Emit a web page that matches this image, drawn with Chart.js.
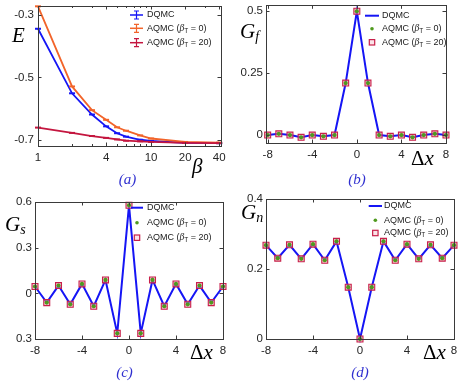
<!DOCTYPE html>
<html>
<head>
<meta charset="utf-8">
<script src="https://cdn.jsdelivr.net/npm/chart.js@4.4.0/dist/chart.umd.min.js"></script>
<style>
  body { margin: 0; background: #fff; width: 463px; height: 384px; position: relative; overflow: hidden; }
  .panel { position: absolute; }
</style>
</head>
<body>
<div class="panel" style="left:0;top:0;width:231px;height:192px"><canvas id="pa"></canvas></div>
<div class="panel" style="left:231px;top:0;width:232px;height:192px"><canvas id="pb"></canvas></div>
<div class="panel" style="left:0;top:192px;width:231px;height:192px"><canvas id="pc"></canvas></div>
<div class="panel" style="left:231px;top:192px;width:232px;height:192px"><canvas id="pd"></canvas></div>
<script>
// panel (a): energy vs beta
const betas = [1, 2, 3, 4, 5, 6, 8, 10, 20, 40];
const eDqmc = [-0.344, -0.551, -0.619, -0.657, -0.679, -0.690, -0.700, -0.704, -0.710, -0.711];
const eAqmc0 = [-0.272, -0.529, -0.605, -0.636, -0.660, -0.671, -0.686, -0.696, -0.707, -0.709];
const eAqmc20 = [-0.661, -0.678, -0.688, -0.694, -0.699, -0.703, -0.705, -0.707, -0.710, -0.711];
const betaTicks = [1, 4, 10, 20, 40];
const betaMinor = [1, 2, 3, 4, 5, 6, 7, 8, 9, 10, 20, 30, 40];
const eTicks = [-0.7, -0.5, -0.3];

// panels (b)-(d): correlations vs distance
const dx = [-8, -7, -6, -5, -4, -3, -2, -1, 0, 1, 2, 3, 4, 5, 6, 7, 8];
const gf = [0, 0.005, 0, -0.009, 0, -0.005, 0, 0.21, 0.5, 0.21, 0, -0.005, 0, -0.009, 0, 0.005, 0];
const gs = [0.045, -0.061, 0.051, -0.072, 0.062, -0.085, 0.088, -0.263, 0.578, -0.263, 0.088, -0.085, 0.062, -0.072, 0.051, -0.061, 0.045];
const gn = [0.268, 0.231, 0.269, 0.229, 0.271, 0.225, 0.279, 0.148, 0, 0.148, 0.279, 0.225, 0.271, 0.229, 0.269, 0.231, 0.268];
const dxTicks = [-8, -4, 0, 4, 8];
const gfTicks = [0, 0.25, 0.5];
const gsTicks = [-0.3, 0, 0.3, 0.6];
const gsTickLabels = ['0.3', '0', '0.3', '0.6'];
const gnTicks = [0, 0.2, 0.4];

const BLUE = '#1515f5', ORANGE = '#f2642a', RED = '#c4163f', GREEN = '#4f9a1e';
const SQ_EDGE = '#c8204a', SQ_FILL = 'rgba(238,150,170,0.55)';
const TICKFONT = { family: '"Liberation Sans", Arial, sans-serif', size: 11.5 };
const LF = '9px "Liberation Sans", Arial, sans-serif';

// box with inward ticks, legend and free labels
const deco = {
  id: 'deco',
  afterDatasetsDraw(chart, args, o) {
    const { ctx, chartArea: a } = chart;
    const sx = chart.scales.x, sy = chart.scales.y;
    ctx.save();
    ctx.strokeStyle = '#3a3a3a';
    ctx.lineWidth = 1;
    ctx.beginPath();
    (o.xt || []).forEach(t => {
      const v = t.v !== undefined ? t.v : t, L = t.l || 3.5;
      const p = Math.round(sx.getPixelForValue(v)) + 0.5;
      ctx.moveTo(p, a.bottom); ctx.lineTo(p, a.bottom - L);
      ctx.moveTo(p, a.top); ctx.lineTo(p, a.top + L);
    });
    (o.yt || []).forEach(v => {
      const p = Math.round(sy.getPixelForValue(v)) + 0.5;
      ctx.moveTo(a.left, p); ctx.lineTo(a.left + 3.5, p);
      ctx.moveTo(a.right, p); ctx.lineTo(a.right - 3.5, p);
    });
    ctx.stroke();
    ctx.strokeRect(Math.round(a.left) + 0.5, Math.round(a.top) + 0.5,
      Math.round(a.right - a.left), Math.round(a.bottom - a.top));

    // legend
    const lg = o.legend;
    if (lg) {
      lg.rows.forEach((r, i) => {
        const y = lg.y[i];
        const x0 = lg.x0, x1 = lg.x1, xm = (x0 + x1) / 2;
        if (r.kind === 'err' || r.kind === 'line') {
          ctx.strokeStyle = r.color; ctx.lineWidth = r.kind === 'line' ? 2 : 1.5;
          ctx.beginPath(); ctx.moveTo(x0, y); ctx.lineTo(x1, y); ctx.stroke();
          if (r.kind === 'err') {
            ctx.lineWidth = 1.2;
            ctx.beginPath();
            ctx.moveTo(xm, y - 4); ctx.lineTo(xm, y + 4);
            ctx.moveTo(xm - 2.5, y - 4); ctx.lineTo(xm + 2.5, y - 4);
            ctx.moveTo(xm - 2.5, y + 4); ctx.lineTo(xm + 2.5, y + 4);
            ctx.stroke();
          }
        } else if (r.kind === 'dot') {
          ctx.fillStyle = GREEN;
          ctx.beginPath(); ctx.arc(xm, y, 1.8, 0, Math.PI * 2); ctx.fill();
        } else if (r.kind === 'sq') {
          ctx.fillStyle = '#fbe3e8'; ctx.strokeStyle = SQ_EDGE; ctx.lineWidth = 1.2;
          ctx.fillRect(xm - 2.7, y - 2.7, 5.4, 5.4);
          ctx.strokeRect(xm - 2.7, y - 2.7, 5.4, 5.4);
        }
        ctx.fillStyle = '#1a1a1a';
        ctx.textBaseline = 'middle';
        ctx.textAlign = 'left';
        let x = lg.tx;
        r.parts.forEach(p => {
          ctx.font = p.f || LF;
          ctx.fillText(p.t, x, y + (p.dy || 0));
          x += ctx.measureText(p.t).width;
        });
      });
    }

    // axis labels and panel tag
    (o.texts || []).forEach(tx => {
      ctx.fillStyle = tx.color || '#000';
      ctx.textBaseline = tx.base || 'alphabetic';
      ctx.textAlign = tx.align || 'left';
      let x = tx.x;
      tx.parts.forEach(p => {
        ctx.font = p.f;
        ctx.fillText(p.t, x, tx.y + (p.dy || 0));
        x += ctx.measureText(p.t).width;
      });
    });
    ctx.restore();
  }
};
Chart.register(deco);

function aqmcLabel(n) {
  return [
    { t: 'AQMC (' },
    { t: 'β', f: 'italic 9.5px "Liberation Serif", serif' },
    { t: 'T', f: '6.5px "Liberation Sans", Arial, sans-serif', dy: 2.5 },
    { t: ' = ' + n + ')' }
  ];
}

function axisLabel(main, sub, x, y) {
  return {
    x, y, parts: [
      { t: main, f: 'italic 21px "Liberation Serif", serif' },
      { t: sub, f: 'italic 14px "Liberation Serif", serif', dy: 3 }
    ]
  };
}
function dxLabel(x, y) {
  return {
    x, y, parts: [
      { t: 'Δ', f: '21px "Liberation Serif", serif' },
      { t: 'x', f: 'italic 21px "Liberation Serif", serif' }
    ]
  };
}
function tagLabel(t, x, y) {
  return { x, y, align: 'center', base: 'middle', color: '#3030d0',
    parts: [{ t, f: 'italic 15px "Liberation Serif", serif' }] };
}

function setTicks(vals) {
  return s => { s.ticks = vals.map(v => ({ value: v })); };
}
function fixY(w) {
  return s => { s.width = w; s.paddingTop = 0; s.paddingBottom = 0; };
}
function fixX(h) {
  return s => { s.height = h; s.paddingLeft = 0; s.paddingRight = 0; };
}

function axes(xopt, yopt) {
  return {
    x: Object.assign({
      type: 'linear',
      grid: { display: false, drawTicks: false },
      border: { display: false },
      ticks: { font: TICKFONT, color: '#262626', padding: 5, maxRotation: 0, autoSkip: false }
    }, xopt),
    y: Object.assign({
      type: 'linear',
      grid: { display: false, drawTicks: false },
      border: { display: false },
      ticks: { font: TICKFONT, color: '#262626', padding: 4, autoSkip: false }
    }, yopt)
  };
}

function baseOpts(pad, scales, decoOpts) {
  return {
    responsive: false,
    animation: false,
    layout: { padding: pad },
    scales,
    plugins: { legend: { display: false }, tooltip: { enabled: false }, deco: decoOpts }
  };
}

function makeCanvas(id, w, h) {
  const c = document.getElementById(id);
  c.width = w; c.height = h;
  c.style.width = w + 'px'; c.style.height = h + 'px';
  return c;
}

// ---- (a)
const pts = ys => betas.map((b, i) => ({ x: b, y: ys[i] }));
function eSet(label, ys, color, order) {
  return {
    label, data: pts(ys), borderColor: color, backgroundColor: color,
    borderWidth: 1.8, pointStyle: 'line', pointRadius: 3, pointBorderWidth: 2,
    pointBorderColor: color, order, clip: false
  };
}
new Chart(makeCanvas('pa', 231, 192), {
  type: 'line',
  data: {
    datasets: [
      eSet('DQMC', eDqmc, BLUE, 3),
      eSet('AQMC (βT = 0)', eAqmc0, ORANGE, 2),
      eSet('AQMC (βT = 20)', eAqmc20, RED, 1)
    ]
  },
  options: baseOpts({ left: 0, top: 5, right: 10, bottom: 0 },
    axes(
      { type: 'logarithmic', min: 1, max: 41.5, afterBuildTicks: setTicks(betaTicks), afterFit: fixX(46),
        ticks: { font: TICKFONT, color: '#262626', padding: 5, maxRotation: 0, autoSkip: false, callback: v => String(v) } },
      { min: -0.72, max: -0.271, afterBuildTicks: setTicks(eTicks), afterFit: fixY(38),
        ticks: { font: TICKFONT, color: '#262626', padding: 4, callback: v => v.toFixed(1) } }
    ),
    {
      xt: betaMinor.map(v => ({ v, l: betaTicks.includes(v) ? 3.5 : 2 })),
      yt: eTicks,
      legend: {
        x0: 130, x1: 143, tx: 147, y: [15, 28.3, 42.7],
        rows: [
          { kind: 'err', color: BLUE, parts: [{ t: 'DQMC' }] },
          { kind: 'err', color: ORANGE, parts: aqmcLabel(0) },
          { kind: 'err', color: RED, parts: aqmcLabel(20) }
        ]
      },
      texts: [
        { x: 12, y: 42, parts: [{ t: 'E', f: 'italic 21px "Liberation Serif", serif' }] },
        { x: 192, y: 173, parts: [{ t: 'β', f: 'italic 21px "Liberation Serif", serif' }] },
        tagLabel('(a)', 127.5, 180)
      ]
    })
});

// ---- (b)-(d)
function corrSets(ys) {
  const d = dx.map((x, i) => ({ x, y: ys[i] }));
  return [
    { label: 'DQMC', data: d, borderColor: BLUE, borderWidth: 2, pointRadius: 0, order: 3, clip: false },
    { label: 'AQMC (βT = 20)', data: d, showLine: false, pointStyle: 'rect', pointRadius: 4.2,
      pointBorderWidth: 1.1, pointBorderColor: SQ_EDGE, pointBackgroundColor: SQ_FILL, order: 2, clip: false },
    { label: 'AQMC (βT = 0)', data: d, showLine: false, pointStyle: 'circle', pointRadius: 2.1,
      pointBorderWidth: 0, pointBorderColor: GREEN, pointBackgroundColor: GREEN, order: 1, clip: false }
  ];
}
function corrLegend(x0, x1, tx, ys) {
  return {
    x0, x1, tx, y: ys,
    rows: [
      { kind: 'line', color: BLUE, parts: [{ t: 'DQMC' }] },
      { kind: 'dot', parts: aqmcLabel(0) },
      { kind: 'sq', parts: aqmcLabel(20) }
    ]
  };
}

new Chart(makeCanvas('pb', 232, 192), {
  type: 'line',
  data: { datasets: corrSets(gf) },
  options: baseOpts({ left: 0, top: 5, right: 17, bottom: 0 },
    axes(
      { min: -8.15, max: 8, afterBuildTicks: setTicks(dxTicks), afterFit: fixX(49) },
      { min: -0.032, max: 0.524, afterBuildTicks: setTicks(gfTicks), afterFit: fixY(35),
        ticks: { font: TICKFONT, color: '#262626', padding: 3, callback: v => String(v) } }
    ),
    {
      xt: dxTicks, yt: gfTicks,
      legend: corrLegend(134, 148, 151, [15.7, 28.7, 42.3]),
      texts: [axisLabel('G', 'f', 9, 38), dxLabel(180, 165), tagLabel('(b)', 126, 180)]
    })
});

new Chart(makeCanvas('pc', 231, 192), {
  type: 'line',
  data: { datasets: corrSets(gs) },
  options: baseOpts({ left: 0, top: 10, right: 8, bottom: 0 },
    axes(
      { min: -8, max: 8, afterBuildTicks: setTicks(dxTicks), afterFit: fixX(45) },
      { min: -0.3, max: 0.6, afterBuildTicks: setTicks(gsTicks), afterFit: fixY(35),
        ticks: { font: TICKFONT, color: '#262626', padding: 3, callback: (v, i) => gsTickLabels[i] } }
    ),
    {
      xt: dxTicks, yt: gsTicks,
      legend: corrLegend(131, 143, 147, [15.7, 30.7, 45.7]),
      texts: [axisLabel('G', 's', 5, 39), dxLabel(190, 167), tagLabel('(c)', 124.5, 181.5)]
    })
});

new Chart(makeCanvas('pd', 232, 192), {
  type: 'line',
  data: { datasets: corrSets(gn) },
  options: baseOpts({ left: 0, top: 7, right: 9, bottom: 0 },
    axes(
      { min: -8, max: 8, afterBuildTicks: setTicks(dxTicks), afterFit: fixX(45) },
      { min: 0, max: 0.4, afterBuildTicks: setTicks(gnTicks), afterFit: fixY(35),
        ticks: { font: TICKFONT, color: '#262626', padding: 3, callback: v => String(v) } }
    ),
    {
      xt: dxTicks, yt: gnTicks,
      legend: corrLegend(137.7, 151, 153, [14, 28.3, 41]),
      texts: [axisLabel('G', 'n', 10, 27), dxLabel(192, 167), tagLabel('(d)', 129, 181)]
    })
});
</script>
</body>
</html>
